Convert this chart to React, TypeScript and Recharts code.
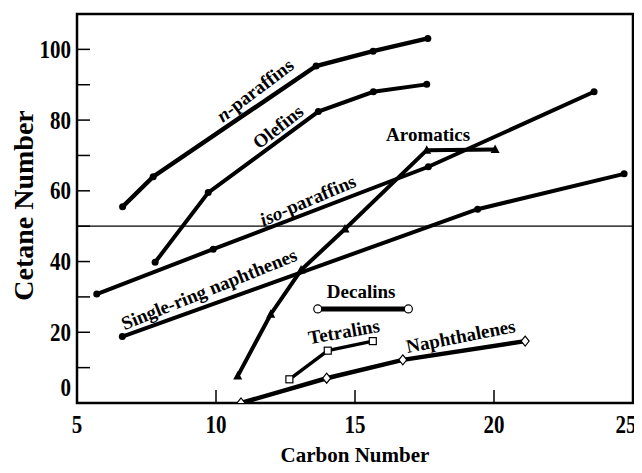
import { LineChart, Line, XAxis, YAxis, ReferenceLine, ReferenceArea, ReferenceDot } from "recharts";

const FONT = '"Liberation Serif", "Times New Roman", serif';

// carbon number / cetane number pairs
const nParaffinsC = [6.64, 7.74, 13.6, 15.65, 17.62];
const nParaffinsCN = [55.5, 64.0, 95.3, 99.5, 103.1];

const olefinsC = [7.81, 9.72, 13.68, 15.66, 17.58];
const olefinsCN = [39.8, 59.5, 82.4, 88.0, 90.1];

const isoParaffinsC = [5.71, 9.9, 17.64, 23.6];
const isoParaffinsCN = [30.8, 43.5, 66.8, 88.0];

const singleRingC = [6.63, 19.41, 24.68];
const singleRingCN = [18.8, 54.8, 64.8];

const aromaticsC = [10.78, 11.97, 13.06, 14.64, 17.58, 20.04];
const aromaticsCN = [7.6, 25.1, 37.6, 49.2, 71.5, 71.7];

const decalinsC = [13.66, 16.92];
const decalinsCN = [26.6, 26.6];

const tetralinsC = [12.64, 14.02, 15.64];
const tetralinsCN = [6.7, 14.8, 17.5];

const naphthalenesC = [10.9, 13.98, 16.72, 21.12];
const naphthalenesCN = [0, 7.0, 12.2, 17.5];

const xTicks = [5, 10, 15, 20, 25];
const yTicks = [0, 10, 20, 30, 40, 50, 60, 70, 80, 90, 100];

const toPoints = (xs: number[], ys: number[]) => xs.map((x, i) => ({ x, y: ys[i] }));

type MarkerKind = "dot" | "triangle" | "openCircle" | "openSquare" | "openDiamond";

const series: { name: string; data: { x: number; y: number }[]; marker: MarkerKind; width: number }[] = [
  { name: "n-paraffins", data: toPoints(nParaffinsC, nParaffinsCN), marker: "dot", width: 4.5 },
  { name: "Olefins", data: toPoints(olefinsC, olefinsCN), marker: "dot", width: 4 },
  { name: "iso-paraffins", data: toPoints(isoParaffinsC, isoParaffinsCN), marker: "dot", width: 4 },
  { name: "Single-ring naphthenes", data: toPoints(singleRingC, singleRingCN), marker: "dot", width: 4 },
  { name: "Aromatics", data: toPoints(aromaticsC, aromaticsCN), marker: "triangle", width: 4 },
  { name: "Decalins", data: toPoints(decalinsC, decalinsCN), marker: "openCircle", width: 5 },
  { name: "Tetralins", data: toPoints(tetralinsC, tetralinsCN), marker: "openSquare", width: 3.5 },
  { name: "Naphthalenes", data: toPoints(naphthalenesC, naphthalenesCN), marker: "openDiamond", width: 4.5 },
];

// curve names drawn on the plot (anchor in data units, rotation in degrees)
const annotations = [
  { key: "n", x: 11.4, y: 88.5, angle: -37, italic: "n", text: "-paraffins" },
  { key: "ole", x: 12.23, y: 78.1, angle: -38, italic: "", text: "Olefins" },
  { key: "iso", x: 13.3, y: 57.4, angle: -23, italic: "iso", text: "-paraffins" },
  { key: "srn", x: 9.75, y: 32.2, angle: -22, italic: "", text: "Single-ring naphthenes" },
  { key: "aro", x: 17.63, y: 75.8, angle: 0, italic: "", text: "Aromatics" },
  { key: "dec", x: 15.22, y: 31.4, angle: 0, italic: "", text: "Decalins" },
  { key: "tet", x: 14.6, y: 20.2, angle: -10, italic: "", text: "Tetralins" },
  { key: "nap", x: 18.8, y: 18.9, angle: -11, italic: "", text: "Naphthalenes" },
];

const Marker = ({ cx, cy, kind }: { cx: number; cy: number; kind: MarkerKind }) => {
  if (cx == null || cy == null) return null;
  switch (kind) {
    case "triangle":
      return <polygon points={`${cx},${cy - 5} ${cx - 4.5},${cy + 3.5} ${cx + 4.5},${cy + 3.5}`} fill="#000" />;
    case "openCircle":
      return <circle cx={cx} cy={cy} r={4} fill="#fff" stroke="#000" strokeWidth={1.2} />;
    case "openSquare":
      return <rect x={cx - 3.5} y={cy - 3.5} width={7} height={7} fill="#fff" stroke="#000" strokeWidth={1.2} />;
    case "openDiamond":
      return (
        <polygon
          points={`${cx},${cy - 5} ${cx + 4},${cy} ${cx},${cy + 5} ${cx - 4},${cy}`}
          fill="#fff"
          stroke="#000"
          strokeWidth={1.2}
        />
      );
    default:
      return <circle cx={cx} cy={cy} r={3.5} fill="#000" />;
  }
};

const YTick = (props: any) => {
  const { x, y, payload } = props;
  const v = payload.value;
  return (
    <g>
      {v > 0 && <line x1={x + 6} x2={x + 19} y1={y} y2={y} stroke="#000" strokeWidth={1.5} />}
      {v % 20 === 0 && (
        <text
          transform={`translate(${x},${v === 0 ? y - 15 : y}) scale(1,1.15)`}
          textAnchor="end"
          dy="0.35em"
          fontFamily={FONT}
          fontWeight="bold"
          fontSize={21}
          fill="#000"
        >
          {v}
        </text>
      )}
    </g>
  );
};

const XTick = (props: any) => {
  const { x, y, payload } = props;
  const v = payload.value;
  // last label pulled in so it stays on the page
  const tx = v === 25 ? x - 7 : x;
  return (
    <g>
      {v > 5 && v < 25 && <line x1={x} x2={x} y1={y} y2={y - 13} stroke="#000" strokeWidth={1.5} />}
      <text
        transform={`translate(${tx},${y + 22}) scale(1,1.15)`}
        textAnchor="middle"
        dy="0.35em"
        fontFamily={FONT}
        fontWeight="bold"
        fontSize={21}
        fill="#000"
      >
        {v}
      </text>
    </g>
  );
};

const App = () => {
  return (
    <div style={{ margin: -8, width: 642, height: 473, background: "#fff", overflow: "hidden" }}>
      <LineChart width={642} height={473} margin={{ top: 14, right: 9, left: 17, bottom: 40 }}>
        <XAxis
          type="number"
          dataKey="x"
          domain={[5, 25]}
          ticks={xTicks}
          interval={0}
          allowDataOverflow
          axisLine={false}
          tickLine={false}
          tickSize={0}
          tickMargin={0}
          height={30}
          tick={<XTick />}
          label={{
            content: (p: any) => {
              const vb = p.viewBox;
              return (
                <text
                  x={vb.x + vb.width / 2}
                  y={462}
                  textAnchor="middle"
                  fontFamily={FONT}
                  fontWeight="bold"
                  fontSize={21}
                  fill="#000"
                >
                  Carbon Number
                </text>
              );
            },
          }}
        />
        <YAxis
          type="number"
          domain={[0, 110]}
          ticks={yTicks}
          interval={0}
          allowDataOverflow
          axisLine={false}
          tickLine={false}
          tickSize={0}
          tickMargin={6}
          width={60}
          tick={<YTick />}
          label={{
            content: (p: any) => {
              const vb = p.viewBox;
              const cy = vb.y + vb.height / 2 - 3;
              return (
                <text
                  transform={`translate(${vb.x + 16},${cy}) rotate(-90)`}
                  textAnchor="middle"
                  fontFamily={FONT}
                  fontWeight="bold"
                  fontSize={28}
                  fill="#000"
                >
                  Cetane Number
                </text>
              );
            },
          }}
        />
        <ReferenceArea x1={5} x2={25} y1={0} y2={110} fill="none" stroke="#000" strokeWidth={2.5} />
        <ReferenceLine y={50} stroke="#000" strokeWidth={1.3} />
        {series.map((s) => (
          <Line
            key={s.name}
            data={s.data}
            dataKey="y"
            name={s.name}
            type="linear"
            stroke="#000"
            strokeWidth={s.width}
            isAnimationActive={false}
            activeDot={false}
            dot={(p: any) => <Marker key={`${s.name}-${p.index}`} cx={p.cx} cy={p.cy} kind={s.marker} />}
          />
        ))}
        {annotations.map((a) => (
          <ReferenceDot
            key={a.key}
            x={a.x}
            y={a.y}
            r={0}
            shape={(p: any) => (
              <text
                transform={`translate(${p.cx},${p.cy}) rotate(${a.angle})`}
                textAnchor="middle"
                dominantBaseline="central"
                fontFamily={FONT}
                fontWeight="bold"
                fontSize={19}
                fill="#000"
              >
                {a.italic && <tspan fontStyle="italic">{a.italic}</tspan>}
                {a.text}
              </text>
            )}
          />
        ))}
      </LineChart>
    </div>
  );
};

export default App;
